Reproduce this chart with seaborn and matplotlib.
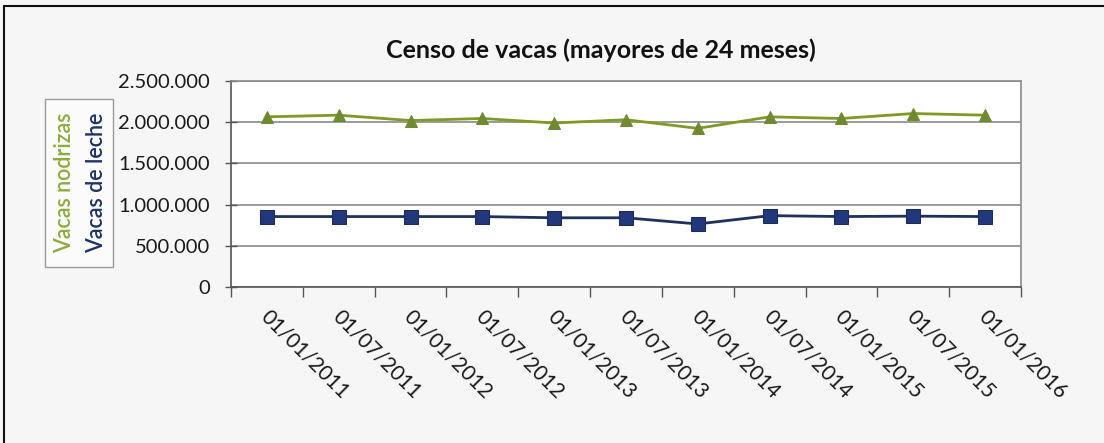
import matplotlib
matplotlib.use("Agg")
import matplotlib.pyplot as plt
import matplotlib.transforms as mtransforms
import seaborn as sns
import pandas as pd
from matplotlib.ticker import FuncFormatter, FixedLocator
from matplotlib.patches import Rectangle

fechas = ["01/01/2011", "01/07/2011", "01/01/2012", "01/07/2012", "01/01/2013",
          "01/07/2013", "01/01/2014", "01/07/2014", "01/01/2015", "01/07/2015",
          "01/01/2016"]
vacas_nodrizas = [2065000, 2085000, 2020000, 2045000, 1990000, 2030000,
                  1925000, 2065000, 2045000, 2105000, 2085000]
vacas_leche = [855000, 855000, 855000, 855000, 840000, 840000,
               765000, 866000, 855000, 860000, 855000]
y_ticks = [0, 500000, 1000000, 1500000, 2000000, 2500000]
titulo = "Censo de vacas (mayores de 24 meses)"

df = pd.DataFrame({"fecha": fechas, "nodrizas": vacas_nodrizas, "leche": vacas_leche})

sns.set_theme(style="white")
plt.rcParams["font.family"] = ["Lato", "DejaVu Sans"]

fig = plt.figure(figsize=(11.04, 4.43), dpi=100)
fig.patch.set_facecolor("#f6f6f6")
ax = fig.add_axes([0.2092, 0.3521, 0.7156, 0.4651])
ax.set_facecolor("#ffffff")

green_line = "#7f9a25"
green_mark = "#6f8a30"
blue_line = "#1f2f5e"
blue_mark = "#23387a"

sns.lineplot(data=df, x="fecha", y="nodrizas", sort=False, ax=ax, color=green_line,
             linewidth=2, marker="^", markersize=8, markerfacecolor=green_mark,
             markeredgecolor=green_mark)
sns.lineplot(data=df, x="fecha", y="leche", sort=False, ax=ax, color=blue_line,
             linewidth=2, marker="s", markersize=9.5, markerfacecolor=blue_mark,
             markeredgecolor="#1a2a60")

n = len(fechas)
ax.set_xlim(-0.5, n - 0.5)
ax.set_ylim(0, 2500000)
ax.set_yticks(y_ticks)
ax.yaxis.set_major_formatter(FuncFormatter(lambda v, p: f"{int(v):,}".replace(",", ".")))
ax.grid(axis="y", color="#8a8a8a", linewidth=1.2)
ax.set_axisbelow(True)

ax.set_xticks(range(n))
ax.set_xticklabels(fechas, rotation=-45, ha="left", va="top", rotation_mode="anchor",
                   fontsize=15, color="#1a1a1a")
ax.tick_params(axis="x", which="major", length=0, pad=14)
ax.xaxis.set_minor_locator(FixedLocator([i - 0.5 for i in range(n + 1)]))
ax.tick_params(axis="x", which="minor", length=7, width=1, color="#555555", direction="out", bottom=True)
ax.tick_params(axis="y", which="major", length=8, width=1, color="#555555", direction="inout",
               left=True, labelsize=14.5, labelcolor="#1a1a1a", pad=11)
offset = mtransforms.ScaledTranslation(4 / 100, 0, fig.dpi_scale_trans)
for lbl in ax.get_xticklabels():
    lbl.set_transform(lbl.get_transform() + offset)

ax.set_xlabel("")
ax.set_ylabel("")
for s in ["top", "right"]:
    ax.spines[s].set_color("#8a8a8a")
    ax.spines[s].set_linewidth(1.2)
for s in ["left", "bottom"]:
    ax.spines[s].set_color("#555555")
    ax.spines[s].set_linewidth(1.2)

fig.text(601 / 1104, 1 - 50 / 443, titulo, ha="center", va="center", fontsize=18,
         fontweight="bold", color="#111111")

# rotated legend box
fig.patches.append(Rectangle((45 / 1104, 1 - 267 / 443), 68 / 1104, 168 / 443,
                             transform=fig.transFigure, facecolor="#fbfbfb",
                             edgecolor="#9a9a9a", linewidth=1))
fig.text(65 / 1104, 1 - 183 / 443, "Vacas nodrizas", rotation=90, ha="center", va="center",
         fontsize=15.5, fontweight="semibold", color="#8fab3c")
fig.text(97 / 1104, 1 - 183 / 443, "Vacas de leche", rotation=90, ha="center", va="center",
         fontsize=15.5, fontweight="semibold", color="#1f3466")

# outer border (left and top)
fig.lines.append(plt.Line2D([4 / 1104, 4 / 1104], [0, 1 - 6 / 443], transform=fig.transFigure,
                            color="#111111", linewidth=1.5))
fig.lines.append(plt.Line2D([4 / 1104, 1], [1 - 6 / 443, 1 - 6 / 443], transform=fig.transFigure,
                            color="#111111", linewidth=1.5))

fig.savefig("out.png", dpi=100, facecolor=fig.get_facecolor())
